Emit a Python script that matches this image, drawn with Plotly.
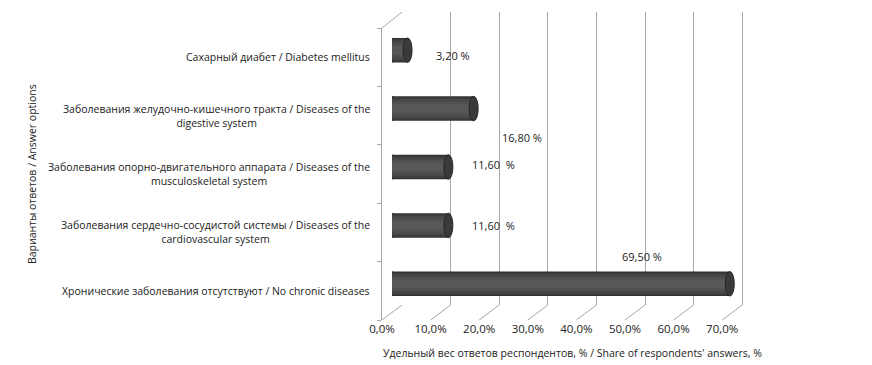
import plotly.graph_objects as go

categories = [
    "Сахарный диабет / Diabetes mellitus",
    "Заболевания желудочно-кишечного тракта / Diseases of the<br>digestive system",
    "Заболевания опорно-двигательного аппарата / Diseases of the<br>musculoskeletal system",
    "Заболевания сердечно-сосудистой системы / Diseases of the<br>cardiovascular system",
    "Хронические заболевания отсутствуют / No chronic diseases",
]
values = [3.2, 16.8, 11.6, 11.6, 69.5]
value_labels = ["3,20 %", "16,80 %", "11,60  %", "11,60  %", "69,50 %"]
tick_vals = [0, 10, 20, 30, 40, 50, 60, 70]
tick_text = ["0,0%", "10,0%", "20,0%", "30,0%", "40,0%", "50,0%", "60,0%", "70,0%"]

W, H = 872, 365
FONT = "Open Sans"
GRID = "#a6a6a6"

# pixel geometry of the pseudo-3D box
front_x0, back_x0, bar_x0 = 382, 402, 392
scale = 4.86  # px per percent
front_y, back_y = 320, 305
top_front, top_back = 28, 12
bar_lift = 7
xr = [0, 80]


def px_dom(x0):
    return [x0 / W, (x0 + scale * xr[1]) / W]


def py(p):
    return 1 - p / H


n = len(categories)
ypos = list(range(n))[::-1]  # first category on top

fig = go.Figure()

# bars (cylinder imitation: layered bars)
layers = [(0.42, "#303030"), (0.38, "#3e3e3e"), (0.32, "#484848"),
          (0.24, "#505050"), (0.14, "#585858")]
for w, c in layers:
    fig.add_trace(go.Bar(
        x=values, y=ypos, orientation="h", width=w,
        marker=dict(color=c, line=dict(width=0)),
        xaxis="x3", yaxis="y3", hoverinfo="skip", showlegend=False,
    ))

# end caps (ellipses) computed from the values
cap = 4.5 / scale
for v, yy in zip(values, ypos):
    fig.add_shape(type="circle", xref="x3", yref="y3",
                  x0=v - cap, x1=v + cap, y0=yy - 0.21, y1=yy + 0.21,
                  fillcolor="#3a3a3a", line=dict(color="#262626", width=1), layer="above")
    fig.add_shape(type="circle", xref="x3", yref="y3",
                  x0=-cap, x1=cap, y0=yy - 0.21, y1=yy + 0.21,
                  fillcolor="#404040", line=dict(color="#2a2a2a", width=0.5), layer="below")

# floor diagonals
for v in tick_vals:
    fig.add_shape(type="line", xref="x", yref="paper",
                  x0=v, x1=v + (back_x0 - front_x0) / scale, y0=py(front_y), y1=py(back_y),
                  line=dict(color=GRID, width=1))
# left wall top diagonal
fig.add_shape(type="line", xref="x", yref="paper",
              x0=0, x1=(back_x0 - front_x0) / scale, y0=py(top_front), y1=py(top_back),
              line=dict(color=GRID, width=1))

# category labels
for cat, yy in zip(categories, ypos):
    fig.add_annotation(text=cat, xref="paper", yref="y", x=372 / W, y=yy,
                       xanchor="right", yanchor="middle", align="center", showarrow=False,
                       font=dict(family=FONT, size=10.5, color="#222"))

# value labels
label_dx = [5.5, 5.5, 4.5, 4.5, -22.5]
label_dy = [-5, -29, 3, 0, 27]
for v, t, yy, dx, dy in zip(values, value_labels, ypos, label_dx, label_dy):
    fig.add_annotation(text=t, xref="x3", yref="y3", x=v + dx, y=yy, yshift=dy,
                       xanchor="left", yanchor="middle", showarrow=False,
                       font=dict(family=FONT, size=11, color="#222"))

# axis titles
fig.add_annotation(text="Варианты ответов / Answer options", xref="paper", yref="paper",
                   x=32 / W, y=py(174), textangle=-90, showarrow=False,
                   xanchor="center", yanchor="middle",
                   font=dict(family=FONT, size=10.5, color="#222"))
fig.add_annotation(text="Удельный вес ответов респондентов, % / Share of respondents' answers, %",
                   xref="paper", yref="paper", x=572 / W, y=py(353), showarrow=False,
                   xanchor="center", yanchor="middle",
                   font=dict(family=FONT, size=10.5, color="#222"))

fig.update_layout(
    width=W, height=H, margin=dict(l=0, r=0, t=0, b=0, autoexpand=False),
    paper_bgcolor="white", plot_bgcolor="rgba(0,0,0,0)",
    barmode="overlay", showlegend=False,
    # front axis: tick labels
    xaxis=dict(domain=px_dom(front_x0), range=xr, tickvals=tick_vals, ticktext=tick_text,
               showgrid=False, zeroline=False, showline=False, ticks="", automargin=False,
               tickfont=dict(family=FONT, size=11.5, color="#222"), anchor="y", fixedrange=True),
    yaxis=dict(domain=[py(front_y), py(top_front)], range=[-0.5, n - 0.5],
               tickvals=[i - 0.5 for i in range(n + 1)], showticklabels=False,
               ticks="outside", ticklen=4, tickcolor=GRID, automargin=False,
               showline=True, linecolor=GRID, linewidth=1, showgrid=False, zeroline=False,
               anchor="x", fixedrange=True),
    # back wall gridlines
    xaxis2=dict(domain=px_dom(back_x0), range=xr, tickvals=tick_vals, showticklabels=False,
                showgrid=True, gridcolor=GRID, gridwidth=1, zeroline=False, showline=False,
                anchor="y2", fixedrange=True, automargin=False),
    yaxis2=dict(domain=[py(back_y), py(top_back)], range=[0, 1], visible=False,
                anchor="x2", fixedrange=True, automargin=False),
    # bars (mid depth)
    xaxis3=dict(domain=px_dom(bar_x0), range=xr, visible=False, anchor="y3", fixedrange=True),
    yaxis3=dict(domain=[py(front_y - bar_lift), py(top_front - bar_lift)], range=[-0.5, n - 0.5],
                visible=False, anchor="x3", fixedrange=True),
)
# dummy trace so xaxis2/yaxis2 render
fig.add_trace(go.Scatter(x=[None], y=[None], xaxis="x2", yaxis="y2", showlegend=False))

fig.write_html("out.html", config={"displayModeBar": False},
               post_script="document.body.style.margin='0';document.body.style.overflow='hidden';")
